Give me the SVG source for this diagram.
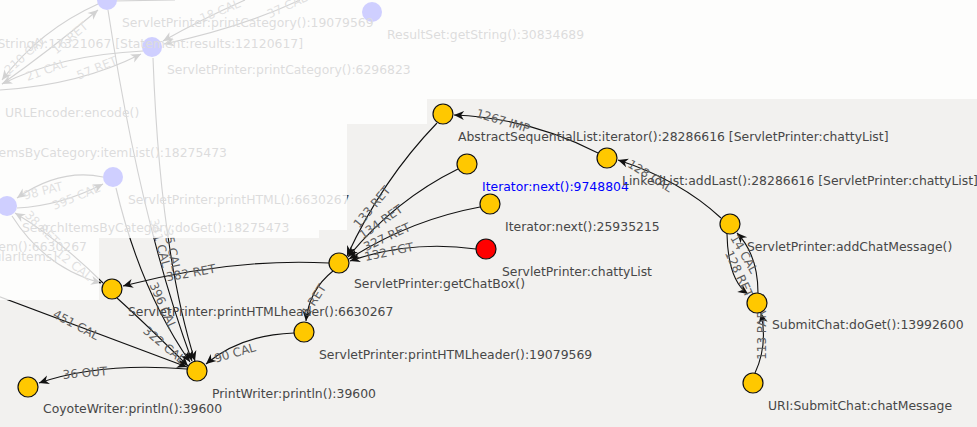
<svg xmlns="http://www.w3.org/2000/svg" width="977" height="427" viewBox="0 0 977 427">
<style>
text{font-family:"DejaVu Sans","Liberation Sans",sans-serif}
.nl{font-size:12.4px;fill:#474747}
.el{font-size:12px;fill:#5e5e5e;text-anchor:middle}
.e{fill:none;stroke:#111;stroke-width:1.1;marker-end:url(#arr)}
.n{fill:#ffc800;stroke:#111;stroke-width:1.2}
.r{fill:#ff0000;stroke:#111;stroke-width:1.2}
.f{fill:#0000ff}
.fl{font-size:12.4px;fill:#474747}
</style>
<defs>
<marker id="arr" viewBox="-11 -5 12 10" markerWidth="12" markerHeight="10" refX="0" refY="0" orient="auto" markerUnits="userSpaceOnUse">
<path d="M0,0 L-10,-4.5 L-7,0 L-10,4.5 Z" fill="#111"/>
</marker>
</defs>
<rect x="0" y="0" width="977" height="427" fill="#f2f1ef"/>

<g id="connectors">
<path class="e" d="M98,4 Q40,30 2,80"/>
<path class="e" d="M2,84 Q50,50 98,10"/>
<path class="e" d="M143,51 Q60,55 2,84"/>
<path class="e" d="M0,90 Q80,85 141,54"/>
<path class="e" d="M245,0 Q200,20 163,41"/>
<path class="e" d="M300,0 Q240,28 164,44"/>
<path class="e" d="M103,177 Q60,168 17,198"/>
<path class="e" d="M17,208 Q60,206 103,184"/>
<path class="e" d="M103,283 Q60,240 15,213"/>
<path class="e" d="M12,216 Q45,268 101,283"/>
<path class="e" d="M113,1 L175,0" style="marker-end:none"/>
<path class="e" d="M598,153 Q530,118 454,115"/>
<path class="e" d="M721,218 Q680,180 618,160"/>
<path class="e" d="M727,234 Q728,280 748,294"/>
<path class="e" d="M758,293 Q758,255 737,233"/>
<path class="e" d="M755,373 Q768,345 761,313"/>
<path class="e" d="M437,123 Q382,180 347,256"/>
<path class="e" d="M458,169 Q395,200 348,257"/>
<path class="e" d="M480,207 Q410,220 349,259"/>
<path class="e" d="M476,249 Q410,240 350,261"/>
<path class="e" d="M329,263 Q230,258 123,286"/>
<path class="e" d="M333,271 Q309,290 306,321"/>
<path class="e" d="M294,333 Q240,335 206,364"/>
<path class="e" d="M117,298 Q148,326 188,366"/>
<path class="e" d="M-5,295 L187,367"/>
<path class="e" d="M187,369 Q100,362 39,383"/>
<path class="e" d="M116,188 Q140,290 190,362"/>
<path class="e" d="M108,10 Q140,220 192,361"/>
<path class="e" d="M153,58 Q160,250 195,361"/>
<text class="el" transform="translate(25,55) rotate(-42)" y="4">210 CAL</text>
<text class="el" transform="translate(70,38) rotate(-40)" y="4">16 RET</text>
<text class="el" transform="translate(46,70) rotate(-20)" y="4">21 CAL</text>
<text class="el" transform="translate(97,68) rotate(-22)" y="4">57 RET</text>
<text class="el" transform="translate(220,11) rotate(-22)" y="4">18 CAL</text>
<text class="el" transform="translate(287,6) rotate(-25)" y="4">37 CAL</text>
<text class="el" transform="translate(43,191) rotate(-14)" y="4">98 PAT</text>
<text class="el" transform="translate(76,197) rotate(-22)" y="4">395 CAL</text>
<text class="el" transform="translate(42,228) rotate(45)" y="4">38 RET</text>
<text class="el" transform="translate(74,265) rotate(38)" y="4">12 CAL</text>
<text class="el" transform="translate(503,121) rotate(17)" y="4">1267 IMP</text>
<text class="el" transform="translate(650,176) rotate(32)" y="4">128 CAL</text>
<text class="el" transform="translate(744,254) rotate(60)" y="4">14 CAL</text>
<text class="el" transform="translate(739,274) rotate(65)" y="4">128 RET</text>
<text class="el" transform="translate(762,335) rotate(-90)" y="4">113 PAR</text>
<text class="el" transform="translate(372,207) rotate(-50)" y="4">133 RET</text>
<text class="el" transform="translate(381,222) rotate(-35)" y="4">134 RET</text>
<text class="el" transform="translate(387,237) rotate(-25)" y="4">327 RET</text>
<text class="el" transform="translate(389,252) rotate(-12)" y="4">132 FGT</text>
<text class="el" transform="translate(191,273) rotate(-10)" y="4">382 RET</text>
<text class="el" transform="translate(314,300) rotate(-58)" y="4">1 RET</text>
<text class="el" transform="translate(235,353) rotate(-16)" y="4">90 CAL</text>
<text class="el" transform="translate(164,345) rotate(40)" y="4">322 CAL</text>
<text class="el" transform="translate(76,325) rotate(28)" y="4">451 CAL</text>
<text class="el" transform="translate(85,373) rotate(-5)" y="4">36 OUT</text>
<text class="el" transform="translate(163,306) rotate(66)" y="4">396 CAL</text>
<text class="el" transform="translate(160,243) rotate(75)" y="4">341 CAL</text>
<text class="el" transform="translate(172,250) rotate(78)" y="4">35 CAL</text>
</g>

<g id="faded-nodes">
<circle class="f" cx="107" cy="0" r="10"/>
<circle class="f" cx="152" cy="47" r="10"/>
<circle class="f" cx="372" cy="12" r="10"/>
<circle class="f" cx="113" cy="177" r="10"/>
<circle class="f" cx="7" cy="206" r="10"/>
<text class="fl" x="122" y="27">ServletPrinter:printCategory():19079569</text>
<text class="fl" x="387" y="39">ResultSet:getString():30834689</text>
<text class="fl" x="303" y="48" text-anchor="end">String():17321067 [Statement:results:12120617]</text>
<text class="fl" x="167" y="74">ServletPrinter:printCategory():6296823</text>
<text class="fl" x="5" y="117">URLEncoder:encode()</text>
<text class="fl" x="227" y="157" text-anchor="end">temsByCategory:itemList():18275473</text>
<text class="fl" x="128" y="204">ServletPrinter:printHTML():6630267</text>
<text class="fl" x="22" y="232">SearchItemsByCategory:doGet():18275473</text>
<text class="fl" x="87" y="251" text-anchor="end">em():6630267</text>
<text class="fl" x="57" y="261" text-anchor="end">ularItems]</text>
</g>

<g id="node-A"><circle class="n" cx="443" cy="114" r="10"/><text class="nl" x="458" y="141">AbstractSequentialList:iterator():28286616 [ServletPrinter:chattyList]</text></g>
<g id="node-B"><circle class="n" cx="467" cy="164" r="10"/><text class="nl" x="482" y="191" style="fill:#0000ff">Iterator:next():9748804</text></g>
<g id="node-C"><circle class="n" cx="490" cy="204" r="10"/><text class="nl" x="505" y="231">Iterator:next():25935215</text></g>
<g id="node-D"><circle class="r" cx="486" cy="249" r="10"/><text class="nl" x="502" y="276">ServletPrinter:chattyList</text></g>
<g id="node-E"><circle class="n" cx="339" cy="263" r="10"/><text class="nl" x="354" y="288">ServletPrinter:getChatBox()</text></g>
<g id="node-F"><circle class="n" cx="607" cy="158" r="10"/><text class="nl" x="622" y="185">LinkedList:addLast():28286616 [ServletPrinter:chattyList]</text></g>
<g id="node-G"><circle class="n" cx="730" cy="224" r="10"/><text class="nl" x="747" y="251">ServletPrinter:addChatMessage()</text></g>
<g id="node-H"><circle class="n" cx="757" cy="303" r="10"/><text class="nl" x="772" y="329">SubmitChat:doGet():13992600</text></g>
<g id="node-I"><circle class="n" cx="753" cy="383" r="10"/><text class="nl" x="768" y="410">URI:SubmitChat:chatMessage</text></g>
<g id="node-J"><circle class="n" cx="112" cy="289" r="10"/><text class="nl" x="128" y="316">ServletPrinter:printHTMLheader():6630267</text></g>
<g id="node-K"><circle class="n" cx="304" cy="332" r="10"/><text class="nl" x="319" y="359">ServletPrinter:printHTMLheader():19079569</text></g>
<g id="node-L"><circle class="n" cx="197" cy="371" r="10"/><text class="nl" x="212" y="398">PrintWriter:println():39600</text></g>
<g id="node-M"><circle class="n" cx="28" cy="387" r="10"/><text class="nl" x="43" y="413">CoyoteWriter:println():39600</text></g>

<path id="fade-overlay" fill="#ffffff" fill-opacity="0.81" fill-rule="evenodd" d="M0,0 H977 V427 H0 Z M0,300 H99 V238 H319 V230 H347 V124 H427 V99 H977 V427 H0 Z"/>
</svg>
